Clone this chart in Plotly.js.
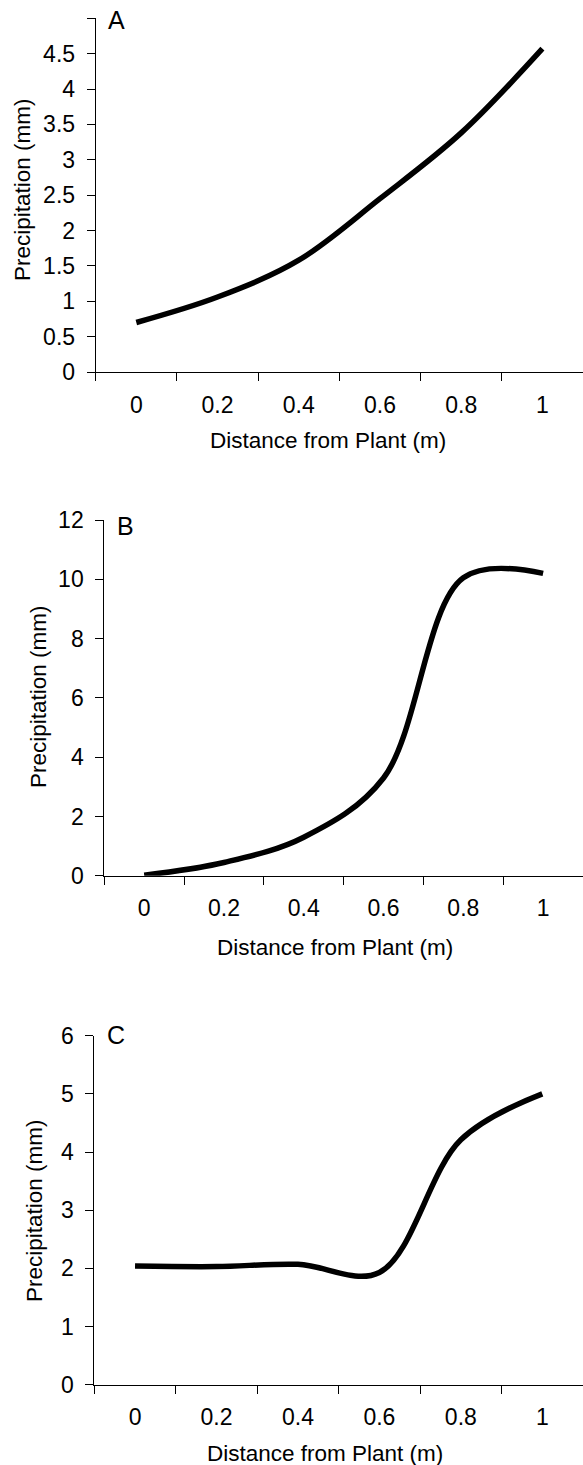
<!DOCTYPE html>
<html>
<head>
<meta charset="utf-8">
<script src="https://cdn.plot.ly/plotly-3.0.1.min.js"></script>
<style>
html,body{margin:0;padding:0;background:#fff;}
#chart{width:583px;height:1465px;}
</style>
</head>
<body>
<div id="chart"></div>
<script>
// Categories (distance from plant, m)
const distance = ['0', '0.2', '0.4', '0.6', '0.8', '1'];
// Precipitation (mm) per panel
const precipA = [0.70, 1.06, 1.58, 2.45, 3.38, 4.57];
const precipB = [0.02, 0.45, 1.30, 3.30, 10.05, 10.20];
const precipC = [2.04, 2.03, 2.07, 1.93, 4.21, 5.00];
// Y tick values / labels
const ticksA = [0, 0.5, 1, 1.5, 2, 2.5, 3, 3.5, 4, 4.5, 5];
const tickTextA = ['0', '0.5', '1', '1.5', '2', '2.5', '3', '3.5', '4', '4.5', ''];
const ticksB = [0, 2, 4, 6, 8, 10, 12];
const ticksC = [0, 1, 2, 3, 4, 5, 6];
const panelLetters = ['A', 'B', 'C'];
const xTitle = 'Distance from Plant (m)';
const yTitle = 'Precipitation (mm)';

const W = 583, H = 1465;
const px = v => v / W;
const py = v => (H - v) / H;
const FONT = 'Liberation Sans, Arial, sans-serif';

const lineStyle = {color: '#000', width: 5.5, shape: 'spline', smoothing: 1};

const traces = [
  {x: distance, y: precipA, xaxis: 'x', yaxis: 'y', mode: 'lines', line: lineStyle, hoverinfo: 'skip'},
  {x: distance, y: precipB, xaxis: 'x2', yaxis: 'y2', mode: 'lines', line: lineStyle, hoverinfo: 'skip'},
  {x: distance, y: precipC, xaxis: 'x3', yaxis: 'y3', mode: 'lines', line: lineStyle, hoverinfo: 'skip'}
];

function xax(domain, anchor) {
  return {
    domain: domain, anchor: anchor, type: 'category', range: [-0.5, 5.5],
    tickson: 'boundaries', ticks: 'outside', ticklen: 8, tickwidth: 1, tickcolor: '#000',
    showline: true, linecolor: '#000', linewidth: 1, showgrid: false, zeroline: false,
    tickfont: {family: FONT, size: 23, color: '#000'}, ticklabelstandoff: 12,
    fixedrange: true
  };
}
function yax(domain, anchor, range, tv, tt) {
  return {
    domain: domain, anchor: anchor, range: range, tickmode: 'array', tickvals: tv, ticktext: tt,
    ticks: 'outside', ticklen: 8, tickwidth: 1, tickcolor: '#000',
    showline: true, linecolor: '#000', linewidth: 1, showgrid: false, zeroline: false,
    tickfont: {family: FONT, size: 23, color: '#000'}, ticklabelstandoff: 7,
    fixedrange: true
  };
}

const ann = [];
const letterPos = [[116, 20], [125, 526], [115.5, 1035]];
const xTitlePos = [[328, 440], [334.6, 947], [325, 1453]];
const yTitlePos = [[22, 190], [38, 697], [34, 1211]];
for (let i = 0; i < 3; i++) {
  ann.push({text: panelLetters[i], xref: 'paper', yref: 'paper', x: px(letterPos[i][0]), y: py(letterPos[i][1]),
    xanchor: 'center', yanchor: 'middle', showarrow: false, font: {family: FONT, size: 25, color: '#000'}});
  ann.push({text: xTitle, xref: 'paper', yref: 'paper', x: px(xTitlePos[i][0]), y: py(xTitlePos[i][1]),
    xanchor: 'center', yanchor: 'middle', showarrow: false, font: {family: FONT, size: 22.5, color: '#000'}});
  ann.push({text: yTitle, xref: 'paper', yref: 'paper', x: px(yTitlePos[i][0]), y: py(yTitlePos[i][1]),
    xanchor: 'center', yanchor: 'middle', textangle: -90, showarrow: false, font: {family: FONT, size: 22.5, color: '#000'}});
}

const layout = {
  width: W, height: H, margin: {l: 0, r: 0, t: 0, b: 0},
  paper_bgcolor: '#fff', plot_bgcolor: '#fff', showlegend: false,
  xaxis: xax([px(95.7), 1], 'y'),
  yaxis: yax([py(372), py(18.3)], 'x', [0, 5], ticksA, tickTextA),
  xaxis2: xax([px(104.3), 1], 'y2'),
  yaxis2: yax([py(875.8), py(520)], 'x2', [0, 12], ticksB, ticksB.map(String)),
  xaxis3: xax([px(94.3), 1], 'y3'),
  yaxis3: yax([py(1384.7), py(1035.7)], 'x3', [0, 6], ticksC, ticksC.map(String)),
  annotations: ann
};

Plotly.newPlot('chart', traces, layout, {displayModeBar: false, staticPlot: true});
</script>
</body>
</html>
